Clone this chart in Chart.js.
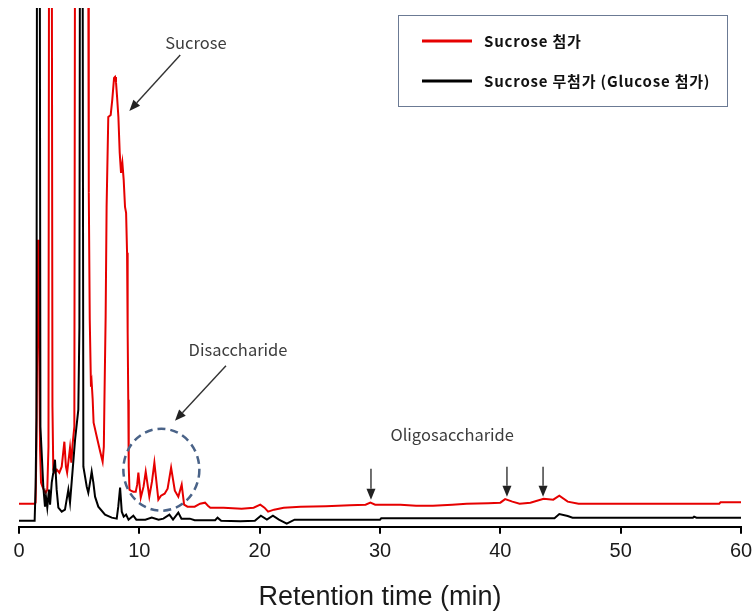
<!DOCTYPE html>
<html>
<head>
<meta charset="utf-8">
<script src="https://cdn.jsdelivr.net/npm/chart.js@4/dist/chart.umd.min.js"></script>
<style>
html, body { margin: 0; padding: 0; background: #fff; }
canvas { display: block; }
</style>
</head>
<body>
<canvas id="chart" width="753" height="612"></canvas>
<script>
// Retention time (min) and detector signal (arbitrary units)
const redTime = [0, 1.30, 1.38, 1.45, 1.52, 1.58, 1.66, 1.75, 1.83, 1.95, 2.10, 2.22, 2.35, 2.45, 2.50, 2.72, 2.78, 2.85,
    3.00, 3.15, 3.35, 3.55, 3.77, 3.90, 4.00, 4.24, 4.35, 4.45, 4.60, 4.66, 5.74, 5.80, 5.88, 5.98, 6.04, 6.12, 6.20,
    6.50, 6.75, 6.95, 7.05, 7.10, 7.20, 7.28, 7.42, 7.62, 7.75, 7.90, 7.98, 8.06, 8.15, 8.26, 8.37, 8.48, 8.59, 8.70,
    8.81, 8.90, 8.98, 9.03, 9.08, 9.12, 9.18, 9.30, 9.50, 9.70, 9.82, 9.92, 10.12, 10.35, 10.53, 10.83, 11.05, 11.25,
    11.58, 11.80, 12.10, 12.35, 12.64, 12.95, 13.24, 13.52, 13.72, 14.00, 14.60, 15.05, 15.46, 15.70, 15.90, 17.00,
    18.50, 19.50, 20.05, 20.40, 20.70, 21.20, 22.00, 23.40, 25.50, 27.50, 28.80, 29.20, 29.60, 31.70, 33.00, 34.40,
    36.00, 37.20, 39.00, 40.00, 40.40, 41.00, 41.60, 42.50, 43.60, 44.40, 44.90, 45.60, 46.50, 58.20, 58.30, 60.00];
const redSignal = [23, 23, 24, 82, 200, 287, 200, 77, 44, 40, 36, 34, 37, 80, 650, 650, 120, 57,
    54, 57, 54, 60, 85, 60, 54, 79, 64, 82, 100, 650, 650, 334, 207, 140, 144, 128, 104,
    88, 75, 65, 80, 127, 210, 320, 410, 412, 427, 449, 450, 445, 430, 410, 374, 354, 364, 347,
    320, 314, 274, 194, 127, 60, 37, 36, 35, 35, 42, 54, 29, 40, 55, 30, 45, 64,
    27, 31, 33, 38, 59, 36, 30, 42, 22, 20, 20, 23, 24, 21, 19, 19,
    18, 19, 22, 19, 15, 17, 19, 20, 20.5, 21.3, 22, 24, 22, 22, 21, 21,
    22, 23, 23.5, 24, 27.5, 25, 23, 24, 28, 27, 31, 25, 23, 23, 24.5, 24.5];

const blackTime = [0, 1.30, 1.38, 1.45, 1.50, 1.72, 1.78, 1.86, 2.02, 2.16, 2.24, 2.35, 2.49, 2.58, 2.72, 2.85, 2.99,
    3.13, 3.27, 3.55, 3.82, 4.10, 4.24, 4.46, 4.66, 4.93, 5.02, 5.07, 5.28, 5.35, 5.63, 5.76, 5.90, 6.04, 6.18, 6.32,
    6.59, 7.15, 7.71, 8.12, 8.25, 8.40, 8.54, 8.70, 8.90, 9.10, 9.50, 9.75, 10.50, 11.03, 11.60, 12.00, 12.50, 12.80,
    13.24, 13.50, 14.20, 14.60, 16.30, 16.50, 16.80, 18.40, 19.60, 20.10, 20.60, 21.10, 21.60, 22.25, 22.90, 30.00,
    30.10, 44.50, 44.90, 45.60, 46.00, 56.00, 56.10, 56.30, 60.00];
const blackSignal = [6, 6, 40, 110, 650, 650, 100, 80, 40, 20, 30, 19, 37, 22, 44, 54, 67,
    37, 19, 15, 17, 37, 24, 57, 87, 117, 200, 650, 650, 60, 40, 34, 44, 55, 44, 30,
    20, 12, 9, 8, 20, 39, 15, 10, 12, 7, 11, 7, 7, 9, 7, 8, 12, 7,
    14, 8, 8, 6.5, 6.5, 9, 6, 5.3, 6, 11, 7, 11, 7, 3, 7, 7,
    8.3, 8.5, 12.6, 10.6, 9, 9, 10, 9, 9];

const seriesLabels = ['Sucrose 첨가', 'Sucrose 무첨가 (Glucose 첨가)'];
const seriesColors = ['#e60000', '#000000'];
const timeTicks = [0, 10, 20, 30, 40, 50, 60];

function toPoints(xs, ys) {
    return xs.map((x, i) => ({ x: x, y: ys[i] }));
}

// Peak labels and arrows, positioned in data units (min, signal)
const annotationTexts = [
    { text: 'Sucrose', t: 14.7, v: 484 },
    { text: 'Disaccharide', t: 18.2, v: 177 },
    { text: 'Oligosaccharide', t: 36.0, v: 92 }
];
const annotationArrows = [
    { from: [13.4, 472], to: [9.17, 416] },
    { from: [17.2, 161], to: [12.96, 106] },
    { from: [29.25, 58], to: [29.25, 27] },
    { from: [40.55, 60], to: [40.55, 30] },
    { from: [43.55, 60], to: [43.55, 30] }
];
const circleCenter = [11.83, 57];

function drawArrow(ctx, x1, y1, x2, y2) {
    const ang = Math.atan2(y2 - y1, x2 - x1);
    const len = 11, half = 4.5;
    const bx = x2 - len * Math.cos(ang), by = y2 - len * Math.sin(ang);
    ctx.beginPath();
    ctx.moveTo(x1, y1);
    ctx.lineTo(bx, by);
    ctx.stroke();
    ctx.beginPath();
    ctx.moveTo(x2, y2);
    ctx.lineTo(bx + half * Math.sin(ang), by - half * Math.cos(ang));
    ctx.lineTo(bx - half * Math.sin(ang), by + half * Math.cos(ang));
    ctx.closePath();
    ctx.fill();
}

const chromAnnotations = {
    id: 'chromAnnotations',
    afterDraw(chart) {
        const ctx = chart.ctx;
        const xs = chart.scales.x, ys = chart.scales.y;
        const px = t => xs.getPixelForValue(t);
        const py = v => ys.getPixelForValue(v);
        ctx.save();

        // labels
        ctx.fillStyle = '#3c3c3c';
        ctx.font = '16.5px "Noto Sans CJK KR", "Open Sans", sans-serif';
        ctx.textAlign = 'center';
        ctx.textBaseline = 'middle';
        annotationTexts.forEach(a => ctx.fillText(a.text, px(a.t), py(a.v)));

        // arrows
        ctx.strokeStyle = '#333';
        ctx.fillStyle = '#222';
        ctx.lineWidth = 1.4;
        annotationArrows.forEach(a => drawArrow(ctx, px(a.from[0]), py(a.from[1]), px(a.to[0]), py(a.to[1])));

        // dashed circle round the disaccharide peaks
        ctx.strokeStyle = '#4a6388';
        ctx.lineWidth = 2.5;
        ctx.setLineDash([8, 5]);
        ctx.beginPath();
        ctx.ellipse(px(circleCenter[0]), py(circleCenter[1]), 38, 41, 0, 0, Math.PI * 2);
        ctx.stroke();
        ctx.setLineDash([]);

        // legend box
        const bx = 398, by = 15, bw = 329, bh = 91;
        ctx.strokeStyle = '#6b7a94';
        ctx.lineWidth = 1;
        ctx.strokeRect(bx + 0.5, by + 0.5, bw, bh);
        ctx.font = 'bold 15px "Noto Sans CJK KR", sans-serif';
        ctx.letterSpacing = '0.8px';
        ctx.textAlign = 'left';
        ctx.fillStyle = '#111';
        chart.data.datasets.forEach((ds, i) => {
            const y = by + 26 + i * 40;
            ctx.strokeStyle = ds.borderColor;
            ctx.lineWidth = 3;
            ctx.beginPath();
            ctx.moveTo(bx + 24, y);
            ctx.lineTo(bx + 74, y);
            ctx.stroke();
            ctx.fillText(ds.label, bx + 86, y);
        });
        ctx.restore();
    }
};

new Chart(document.getElementById('chart').getContext('2d'), {
    type: 'line',
    data: {
        datasets: [{
            label: seriesLabels[0],
            data: toPoints(redTime, redSignal),
            borderColor: seriesColors[0],
            borderWidth: 2,
            pointRadius: 0,
            tension: 0,
            order: 2
        }, {
            label: seriesLabels[1],
            data: toPoints(blackTime, blackSignal),
            borderColor: seriesColors[1],
            borderWidth: 2,
            pointRadius: 0,
            tension: 0,
            order: 1
        }]
    },
    options: {
        responsive: false,
        animation: false,
        devicePixelRatio: 1,
        layout: { padding: { left: 19, right: 12, top: 8, bottom: 0 } },
        plugins: {
            legend: { display: false },
            tooltip: { enabled: false }
        },
        scales: {
            x: {
                type: 'linear',
                min: 0,
                max: 60,
                afterBuildTicks: axis => { axis.ticks = timeTicks.map(v => ({ value: v })); },
                afterFit: axis => { axis.paddingLeft = 0; axis.paddingRight = 0; },
                border: { display: true, color: '#000', width: 2 },
                grid: { drawOnChartArea: false, drawTicks: true, tickLength: 7, color: '#000', lineWidth: 2 },
                ticks: {
                    color: '#1a1a1a',
                    padding: 6,
                    maxRotation: 0,
                    font: { family: '"Liberation Sans", Arial, sans-serif', size: 20 }
                },
                title: {
                    display: true,
                    text: 'Retention time (min)',
                    color: '#1a1a1a',
                    padding: { top: 14, bottom: 0 },
                    font: { family: '"Liberation Sans", Arial, sans-serif', size: 27, lineHeight: 1.05 }
                }
            },
            y: {
                display: false,
                min: 0,
                max: 519
            }
        }
    },
    plugins: [chromAnnotations]
});
</script>
</body>
</html>
